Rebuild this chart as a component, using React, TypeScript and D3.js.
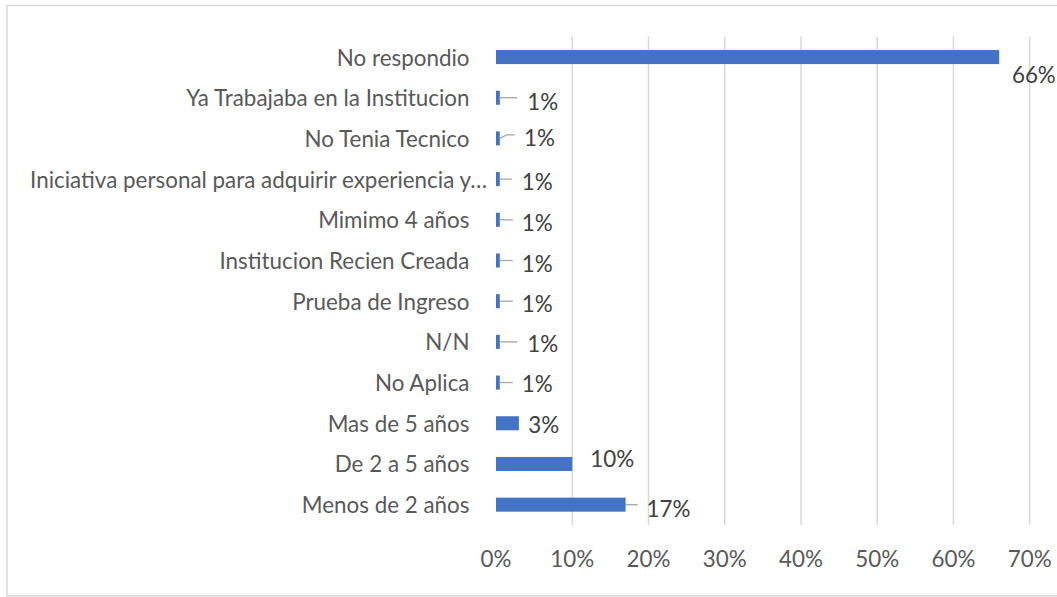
import React, { useEffect, useRef } from "react";
import * as d3 from "d3";

// categories from top to bottom, values in percent
const categories = [
  "No respondio",
  "Ya Trabajaba en la Institucion",
  "No Tenia Tecnico",
  "Iniciativa personal para adquirir experiencia y…",
  "Mimimo 4 años",
  "Institucion Recien Creada",
  "Prueba de Ingreso",
  "N/N",
  "No Aplica",
  "Mas de 5 años",
  "De 2 a 5 años",
  "Menos de 2 años",
];
const values = [66, 0.5, 0.5, 0.5, 0.5, 0.5, 0.5, 0.5, 0.5, 3, 10, 17];
const xTicks = [0, 10, 20, 30, 40, 50, 60, 70];

// where each data label was dragged to: [dx, dy] from bar end, and leader end (null = no leader)
const labelOffsets: [number, number][] = [
  [12.7, 17.3], [27.5, 3.3], [24.2, -1], [22, 2], [22, 2.5], [22, 2.5],
  [22, 2.5], [27.5, 1.5], [22, 1], [9.5, 1.7], [18, -5.7], [21, 3.6],
];
const leaderEnds: ([number, number] | null)[] = [
  null, [17.5, 0], [15, -3.5], [12, 0], [13, 0], [13, 0],
  [13, 0], [17.5, 0], [13, 0], null, null, [12, 0],
];

const W = 1057;
const H = 597;
const FONT = "Lato, 'Open Sans', sans-serif";
const FS = 22.4;
const TEXT = "#595959";

const App = () => {
  const ref = useRef<SVGSVGElement>(null);

  useEffect(() => {
    const svg = d3.select(ref.current);
    svg.selectAll("*").remove();

    const x = d3.scaleLinear().domain([0, 70]).range([496, 1029.7]);
    const y = d3.scaleBand<string>()
      .domain(categories)
      .range([36.7, 525])
      .paddingInner(0.655)
      .paddingOuter(0.3275);

    // chart border
    svg.append("rect")
      .attr("x", 7).attr("y", 5.5)
      .attr("width", W).attr("height", 590.5)
      .attr("fill", "white")
      .attr("stroke", "#d9d9d9")
      .attr("stroke-width", 1.5);

    // gridlines
    svg.append("g")
      .selectAll("line")
      .data(xTicks.slice(1))
      .join("line")
      .attr("x1", d => x(d)).attr("x2", d => x(d))
      .attr("y1", 36.7).attr("y2", 525)
      .attr("stroke", "#d9d9d9")
      .attr("stroke-width", 1.5);

    // x tick labels
    svg.append("g")
      .selectAll("text")
      .data(xTicks)
      .join("text")
      .attr("x", d => x(d))
      .attr("y", 558)
      .attr("text-anchor", "middle")
      .attr("dominant-baseline", "central")
      .attr("font-family", FONT)
      .attr("font-size", FS)
      .attr("fill", TEXT)
      .text(d => d + "%");

    // category labels (the truncated one sits closer to the axis, like Excel does)
    svg.append("g")
      .selectAll("text")
      .data(categories)
      .join("text")
      .attr("x", d => (d.endsWith("…") ? 487 : 469.5))
      .attr("y", d => (y(d) as number) + y.bandwidth() / 2)
      .attr("text-anchor", "end")
      .attr("dominant-baseline", "central")
      .attr("font-family", FONT)
      .attr("font-size", FS)
      .attr("fill", TEXT)
      .text(d => d);

    // bars
    svg.append("g")
      .selectAll("rect")
      .data(values)
      .join("rect")
      .attr("x", x(0))
      .attr("y", (d, i) => y(categories[i]) as number)
      .attr("width", d => x(d) - x(0))
      .attr("height", y.bandwidth())
      .attr("fill", "#4472c4");

    const cy = (i: number) => (y(categories[i]) as number) + y.bandwidth() / 2;

    // leader lines
    svg.append("g")
      .selectAll("polyline")
      .data(values.map((v, i) => ({ v, i, e: leaderEnds[i] })).filter(d => d.e))
      .join("polyline")
      .attr("points", d => {
        const x0 = x(d.v), y0 = cy(d.i);
        const [ex, ey] = d.e as [number, number];
        if (ey === 0) return `${x0},${y0} ${x0 + ex},${y0}`;
        return `${x0},${y0} ${x0 + ex * 0.45},${y0 + ey} ${x0 + ex},${y0 + ey}`;
      })
      .attr("fill", "none")
      .attr("stroke", "#a6a6a6")
      .attr("stroke-width", 1.3);

    // data labels
    svg.append("g")
      .selectAll("text")
      .data(values)
      .join("text")
      .attr("x", (d, i) => x(d) + labelOffsets[i][0])
      .attr("y", (d, i) => cy(i) + labelOffsets[i][1])
      .attr("dominant-baseline", "central")
      .attr("font-family", FONT)
      .attr("font-size", FS)
      .attr("fill", "#404040")
      .text(d => Math.round(d) + "%");
  }, []);

  return (
    <svg
      ref={ref}
      width={W}
      height={H}
      style={{ position: "absolute", left: 0, top: 0, background: "white" }}
    />
  );
};

export default App;
